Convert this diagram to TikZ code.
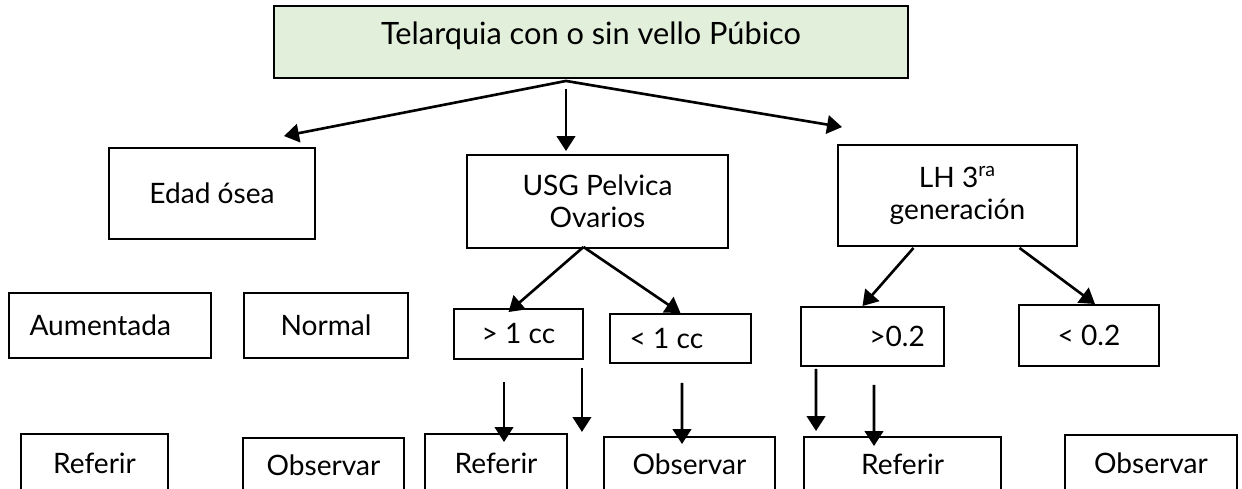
\documentclass[tikz,border=0pt]{standalone}
\usepackage{fontspec}
\setmainfont{Lato}
\usetikzlibrary{positioning, arrows.meta, calc}
\definecolor{telgreen}{RGB}{226,239,218}
\tikzset{
    topstyle/.style={rectangle, draw=black, fill=telgreen, line width=1.1pt, minimum width=12.68cm, minimum height=1.44cm, align=center, font=\fontsize{17.5}{20}\selectfont, text height=0.47cm, text depth=0.37cm},
    boxstyle/.style 2 args={rectangle, draw=black, fill=white, line width=1.1pt, minimum width=#1, minimum height=#2, inner sep=0pt, align=center, font=\fontsize{16}{18.5}\selectfont},
    arr/.style={-{Triangle[length=8.5pt, width=10.5pt]}, line width=1.5pt, color=black}
}
\begin{document}
\begin{tikzpicture}[x=0.02cm, y=-0.02cm]
        \useasboundingbox (0,0) rectangle (1242,489);
        \fill[white] (0,0) rectangle (1242,489);
        \clip (0,0) rectangle (1242,489);

        % Root
        \node[topstyle] (top) at (591,42) {Telarquia con o sin vello Púbico};

        % First level
        \node[boxstyle={4.12cm}{1.82cm}] (edad) at (212,193.5) {Edad ósea};
        \node[boxstyle={5.22cm}{1.86cm}] (usg) at (597.5,201.5) {USG Pelvica\\Ovarios};
        \node[boxstyle={4.78cm}{2.02cm}] (lh) at (957.5,195.5) {LH 3\textsuperscript{ra}\\generación};

        % Second level
        \node[boxstyle={4.04cm}{1.30cm}] (aum) at (110,325.5) {Aumentada\hspace*{11pt}};
        \node[boxstyle={3.28cm}{1.30cm}] (normal) at (326,325.5) {Normal};
        \node[boxstyle={2.58cm}{1.00cm}] (gtcc) at (518.5,334) {> 1 cc};
        \node[boxstyle={2.82cm}{0.98cm}] (ltcc) at (680.5,338.5) {< 1 cc\hspace*{16pt}};
        \node[boxstyle={2.86cm}{1.18cm}] (gtlh) at (872.5,336.5) {\hspace*{28pt}>0.2};
        \node[boxstyle={2.80cm}{1.22cm}] (ltlh) at (1089,335.5) {< 0.2};

        % Outcomes
        \node[boxstyle={2.94cm}{1.16cm}] (ref1) at (94.5,463) {Referir};
        \node[boxstyle={3.22cm}{1.08cm}] (obs1) at (323.5,465) {Observar};
        \node[boxstyle={2.84cm}{1.16cm}] (ref2) at (496,463) {Referir};
        \node[boxstyle={3.42cm}{1.10cm}] (obs2) at (689.5,464.5) {Observar};
        \node[boxstyle={3.94cm}{1.10cm}] (ref3) at (902.5,464.5) {Referir};
        \node[boxstyle={3.44cm}{1.14cm}] (obs3) at (1151,463.5) {Observar};

        % Arrows from root
        \coordinate (fork) at ($(top.south)+(-25,2)$);
        \draw[arr] (fork) -- ($(edad.north)+(72,-11)$);
        \draw[arr] ($(fork)+(0,8)$) -- ($(usg.north)+(-31.5,-3)$);
        \draw[arr] (fork) -- ($(lh.north)+(-115.5,-17)$);

        % Arrows to second level
        \coordinate (usgfork) at ($(usg.south)+(-14,-2)$);
        \draw[arr] (usgfork) -- ($(gtcc.north)+(-10,4)$);
        \draw[arr] (usgfork) -- (ltcc.north);
        \draw[arr] ($(lh.south)+(-44,1)$) -- ($(gtlh.north)+(-10,0)$);
        \draw[arr] ($(lh.south)+(62,1)$) -- ($(ltlh.north)+(6,0)$);

        % Arrows to outcomes
        \coordinate (gtccfree) at ($(gtcc.south east)+(-2,72)$);
        \coordinate (gtlhfree) at ($(ref3.north west)+(13,-5)$);
        \draw[arr] ($(gtcc.south)+(-14.5,22)$) -- ($(ref2.north)+(8,9)$);
        \draw[arr] ($(gtcc.south east)+(-2,8)$) -- (gtccfree);
        \draw[arr] ($(ltcc.south)+(1.5,19)$) -- ($(obs2.north)+(-7.5,8)$);
        \draw[arr] ($(gtlh.south west)+(16,2)$) -- (gtlhfree);
        \draw[arr] ($(gtlh.south)+(1.5,18)$) -- ($(ref3.north)+(-28.5,10)$);

    \end{tikzpicture}
\end{document}
